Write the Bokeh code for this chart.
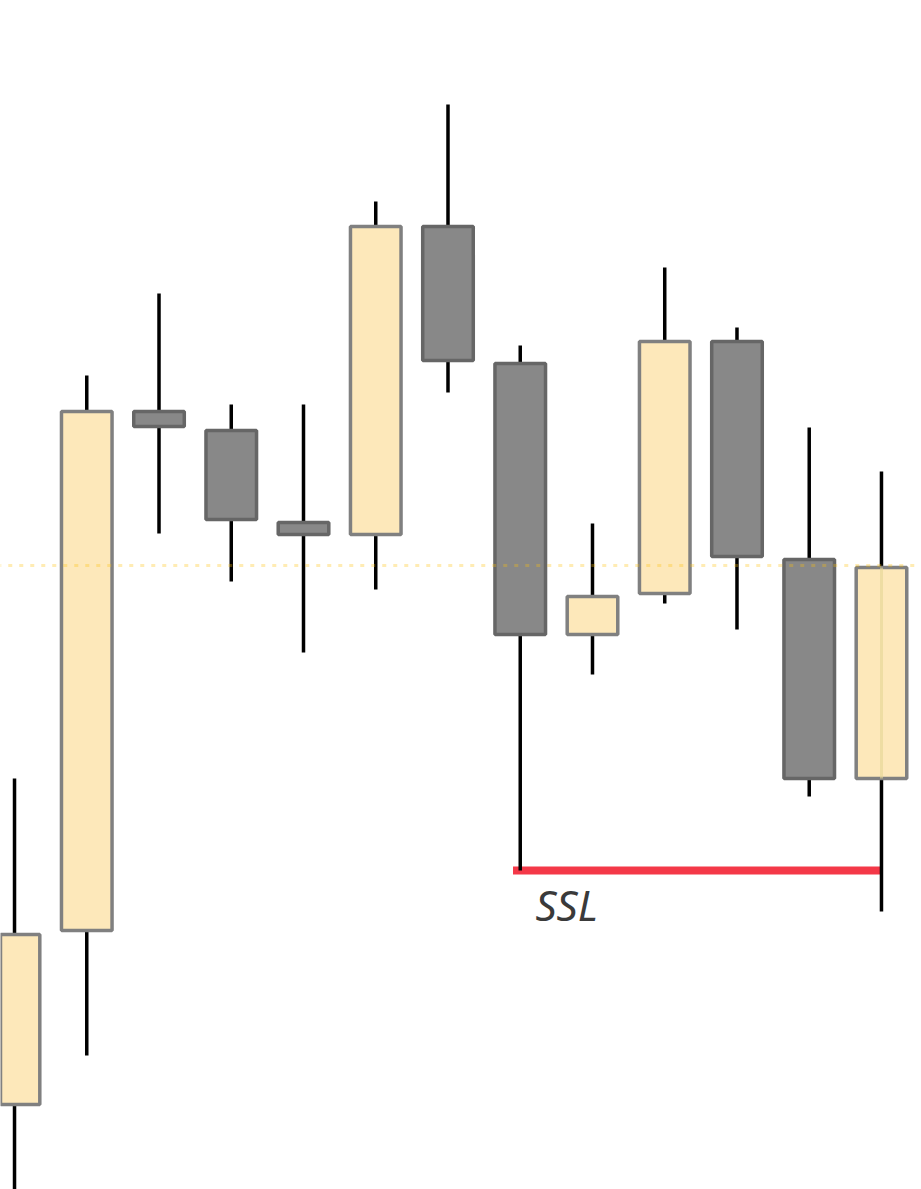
from bokeh.plotting import figure
from bokeh.models import ColumnDataSource, Range1d
from bokeh.core.properties import value
from bokeh.embed import file_html
from bokeh.resources import INLINE

# ---- data (prices) ----
idx    = [0, 1, 2, 3, 4, 5, 6, 7, 8, 9, 10, 11, 12]
opens  = [108.5, 125.9, 177.8, 175.9, 166.7, 165.5, 196.3, 182.6, 155.5, 159.6, 184.8, 163.0, 141.1]
closes = [125.5, 177.8, 176.3, 167.0, 165.5, 196.3, 182.9, 155.5, 159.3, 184.8, 163.3, 141.1, 162.2]
highs  = [141.1, 181.4, 189.6, 178.5, 178.5, 198.8, 208.5, 184.4, 166.6, 192.2, 186.2, 176.2, 171.8]
lows   = [98.9, 113.4, 165.6, 160.8, 153.7, 160.0, 179.7, 131.9, 151.5, 158.6, 156.0, 139.3, 127.8]

level_price = 162.4          # dotted level
ssl_price = 131.9            # sell-side liquidity level
ssl_start, ssl_end = 6.9, 12
ssl_label = "SSL"

bull_fill, bull_line = "#FDE8BA", "#808080"
bear_fill, bear_line = "#888888", "#666666"

up = [c >= o for o, c in zip(opens, closes)]
src = ColumnDataSource(dict(
    x=idx,
    top=[max(o, c) for o, c in zip(opens, closes)],
    bottom=[min(o, c) for o, c in zip(opens, closes)],
    high=highs, low=lows,
    fill=[bull_fill if u else bear_fill for u in up],
    line=[bull_line if u else bear_line for u in up],
))

p = figure(width=921, height=1189, output_backend="svg", toolbar_location=None,
           x_axis_type=None, y_axis_type=None, min_border=0,
           x_range=Range1d(-0.194, 12.554), y_range=Range1d(100.0, 218.9))
p.grid.visible = False
p.outline_line_color = None
p.background_fill_color = "white"
p.border_fill_color = "white"

# SSL line
p.segment(x0=[ssl_start], y0=[ssl_price], x1=[ssl_end], y1=[ssl_price],
          line_color="#F43848", line_width=8, line_cap="butt")

# wicks
p.segment(x0="x", y0="low", x1="x", y1="high", source=src,
          line_color="black", line_width=3.5)
# bodies
p.vbar(x="x", width=0.70, top="top", bottom="bottom", source=src,
       fill_color="fill", line_color="line", line_width=3.5)

# faint trace inside last candle
p.segment(x0=[idx[-1]], y0=[closes[-1]], x1=[idx[-1]], y1=[opens[-1]],
          line_color="#E4D694", line_alpha=0.6, line_width=3)

# dotted level line
p.line(x=[-1, 14], y=[level_price, level_price], line_color="#FFC107",
       line_alpha=0.3, line_width=3, line_dash="4 7")

p.text(x=[7.21], y=[128.5], text=[ssl_label], text_font=value("Noto Sans"),
       text_font_style="italic", text_font_size="42px", text_color="#3a3a3a",
       text_align="left", text_baseline="alphabetic")

open("out.html", "w").write(file_html(p, INLINE))
